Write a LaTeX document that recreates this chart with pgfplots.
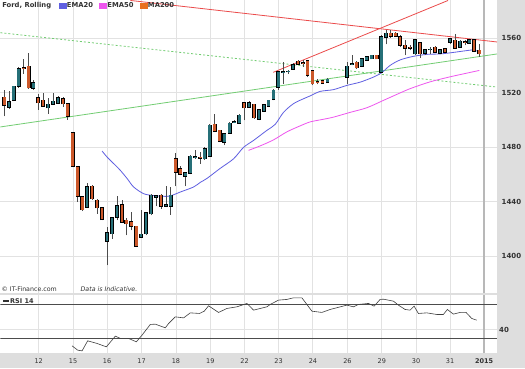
\documentclass[border=0pt]{standalone}
\usepackage{fontspec}
\setmainfont{DejaVu Sans}
\usepackage{pgfplots}
\usepackage{pgfplotstable}
\pgfplotsset{compat=1.18}
\definecolor{upc}{RGB}{38,112,120}
\definecolor{dnc}{RGB}{204,88,42}
\definecolor{ema20}{RGB}{95,95,225}
\definecolor{ema50}{RGB}{238,85,238}
\definecolor{ma200}{RGB}{232,112,30}
\definecolor{trendred}{RGB}{235,75,75}
\definecolor{trendgreen}{RGB}{115,205,115}
\definecolor{panelgray}{RGB}{222,222,222}
\definecolor{gridc}{RGB}{226,226,226}
\definecolor{txt}{RGB}{50,50,50}

% up candles (teal): x open high low close
\pgfplotstableread{
x o h l c
8.7 1509.6 1521.3 1508.4 1513.3
13.3 1514.5 1525.3 1514.0 1524.8
18.3 1524.8 1538.9 1523.8 1537.5
33 1523.5 1529.2 1522.4 1527.2
47.7 1509.1 1516.5 1504.7 1511.6
52.7 1511.6 1519.9 1511.3 1513.8
57.7 1512.5 1517.4 1512.1 1516.5
86.7 1436.2 1453.8 1435.7 1450.9
106.7 1411.2 1421.5 1393.4 1417.1
111.7 1416.7 1428.8 1413.0 1428.4
116.7 1428.8 1444.3 1426.4 1436.9
140.7 1414.2 1433.8 1413.7 1416.1
145.7 1416.7 1432.3 1415.4 1431.8
150.7 1431.3 1446.0 1430.1 1444.8
155.7 1443.5 1444.8 1436.7 1444.3
165.7 1437.0 1451.4 1436.2 1437.6
170.3 1436.7 1450.9 1430.6 1444.8
185 1458.7 1461.4 1451.4 1461.1
190 1461.1 1474.1 1460.2 1473.4
195 1472.5 1478.3 1471.7 1472.9
204.5 1471.7 1480.0 1471.0 1479.0
209.3 1473.4 1497.4 1472.7 1496.2
224 1483.9 1490.5 1481.5 1490.1
229.3 1490.5 1498.6 1490.1 1497.8
234 1498.4 1499.8 1497.8 1498.8
239 1497.8 1504.2 1497.4 1503.5
248.7 1509.6 1514.0 1509.1 1512.5
258.7 1500.6 1508.4 1499.8 1507.7
263.7 1506.6 1512.1 1506.2 1511.3
268.3 1510.1 1515.0 1509.6 1514.5
273.3 1515.2 1523.1 1514.5 1521.8
278 1524.3 1536.0 1522.4 1535.3
283 1534.9 1542.6 1526.8 1535.3
288 1535.6 1536.5 1534.2 1535.8
292.7 1537.3 1541.9 1537.0 1540.7
327.3 1527.7 1531.2 1527.2 1530.1
346.7 1531.6 1542.6 1526.2 1539.5
351.7 1541.0 1547.5 1540.2 1541.4
361.7 1539.5 1545.8 1538.9 1545.1
366.7 1543.9 1546.8 1543.3 1546.3
371.7 1545.1 1548.0 1544.6 1547.5
381.3 1535.3 1562.2 1534.5 1561.0
386 1561.0 1566.4 1555.6 1563.9
415 1548.8 1559.8 1547.5 1559.1
425 1549.2 1552.4 1547.5 1551.7
430 1551.7 1553.6 1548.8 1552.1
440 1549.2 1552.4 1548.8 1551.7
450 1557.3 1560.5 1556.1 1559.8
460 1553.6 1558.5 1553.2 1557.8
469.3 1556.6 1559.8 1556.1 1559.1
}\upcandles

% down candles (orange): x open high low close
\pgfplotstableread{
x o h l c
4 1516.9 1521.8 1502.8 1510.8
23.3 1538.5 1545.1 1534.1 1538.1
28.3 1539.5 1549.2 1523.1 1523.8
37.7 1516.2 1519.4 1507.7 1512.8
42.7 1514.5 1519.9 1509.8 1510.1
62.7 1515.7 1516.9 1509.6 1512.1
67.3 1512.1 1512.3 1500.3 1502.8
72.3 1490.5 1491.5 1465.5 1466.1
77.3 1465.5 1465.8 1439.8 1444.0
82 1443.5 1443.8 1433.2 1434.3
91.7 1451.4 1452.1 1441.6 1442.4
96.7 1441.1 1442.4 1431.3 1435.7
101.7 1435.7 1436.2 1426.4 1427.1
121.7 1437.9 1441.1 1424.4 1425.2
126 1426.4 1428.4 1415.4 1424.0
131 1425.2 1432.5 1419.1 1422.0
136 1422.0 1422.5 1406.8 1407.6
160.7 1444.8 1446.0 1435.0 1436.7
175.3 1471.7 1475.8 1451.4 1461.9
180 1464.4 1466.1 1459.5 1460.2
200 1472.6 1476.6 1468.0 1472.2
214.3 1496.9 1504.7 1491.2 1492.0
219.3 1492.5 1493.0 1483.9 1484.6
243.7 1512.8 1513.1 1499.8 1509.1
253.7 1511.6 1512.1 1501.1 1501.8
297.7 1543.1 1544.4 1540.6 1540.9
302.7 1541.9 1543.9 1538.9 1541.5
307.3 1543.5 1544.2 1531.6 1532.9
312.3 1536.0 1536.5 1525.5 1526.8
317.3 1528.3 1530.4 1526.2 1527.9
322.3 1528.7 1529.2 1526.8 1527.2
356.7 1542.6 1543.3 1537.8 1538.5
376.7 1547.5 1548.0 1544.6 1545.1
390.7 1563.9 1565.9 1560.5 1561.5
395.7 1563.9 1564.6 1561.0 1561.5
400 1561.0 1562.2 1553.6 1554.9
405 1554.9 1558.5 1547.5 1552.9
410 1553.4 1554.9 1551.2 1553.0
420 1556.6 1557.3 1545.8 1548.8
435 1553.6 1554.1 1549.2 1549.9
445 1552.4 1552.9 1549.2 1549.9
455 1558.5 1563.5 1552.4 1552.9
465 1557.5 1558.5 1554.9 1557.1
474 1559.1 1559.8 1549.9 1550.7
479.3 1551.2 1556.1 1546.7 1548.8
}\dncandles

\pgfplotsset{
  eb/.style={draw=none, mark=none, forget plot,
    error bars/.cd, y dir=plus, y explicit, error mark=none,
    error bar style={#1}},
}

\begin{document}
\begin{tikzpicture}[x=1pt,y=1pt]
\fill[panelgray] (0,0) rectangle (525,368);

% ---------------- main price panel ----------------
\begin{axis}[
  at={(0pt,75pt)}, anchor=south west,
  width=497pt, height=293pt, scale only axis,
  xmin=0, xmax=497, ymin=1372.9, ymax=1587.9,
  axis background/.style={fill=white},
  axis line style={draw=none},
  xtick={38.3,72.7,106.7,141.3,175.7,210,244.3,278.3,312.7,347.3,381.7,416,450},
  xticklabels={},
  ytick={1400,1440,1480,1520,1560},
  yticklabels={1400,1440,1480,1520,1560},
  yticklabel pos=right,
  yticklabel style={anchor=west, inner sep=0pt, xshift=4.5pt,
    font=\bfseries\fontsize{7}{8}\selectfont, text=txt},
  major tick length=0pt,
  grid=major, major grid style={draw=gridc, line width=0.9pt},
  legend style={draw=none, fill=none, inner sep=0pt, outer sep=0pt,
    at={(axis description cs:0.1173,0.983)}, anchor=west,
    font=\bfseries\fontsize{6.8}{7}\selectfont, text=txt,
    /tikz/every even column/.append style={column sep=5.5pt},
    nodes={inner sep=0.6pt}},
  legend columns=-1,
]
\addlegendimage{legend image code/.code={\fill[ema20] (0pt,-2.4pt) rectangle (7.3pt,2.4pt);}}
\addlegendentry{EMA20}
\addlegendimage{legend image code/.code={\fill[ema50] (0pt,-2.4pt) rectangle (7.3pt,2.4pt);}}
\addlegendentry{EMA50}
\addlegendimage{legend image code/.code={\fill[ma200] (0pt,-2.4pt) rectangle (7.3pt,2.4pt);}}
\addlegendentry{MA200}

% year separator
\addplot[forget plot, draw=black!28, line width=1.3pt] coordinates {(484,1372.9) (484,1587.9)};

% trend lines
\addplot[forget plot, trendgreen, line width=0.8pt, dash pattern=on 2pt off 2pt] coordinates {(0,1564.2) (497,1524.3)};
\addplot[forget plot, trendgreen, line width=0.8pt] coordinates {(0,1495.0) (497,1548.6)};
\addplot[forget plot, trendred, line width=0.8pt] coordinates {(130,1587.9) (497,1557.4)};
\addplot[forget plot, trendred, line width=0.8pt] coordinates {(273,1535.1) (448,1587.9)};

% EMA20
\addplot[forget plot, ema20, line width=0.8pt, smooth] coordinates {
(101.7,1477.3) (106.7,1472.9) (113,1468.3) (120,1463.1) (127,1456.9) (133.3,1450.9)
(143.3,1446.0) (153.3,1444.6) (166.7,1444.0) (173,1445.1) (180,1447.2) (193.3,1450.9)
(200,1454.3) (206.7,1457.2) (220,1464.6) (233.3,1471.6) (243.3,1480.0) (253.3,1485.1)
(266.7,1492.5) (275,1496.9) (283.3,1505.7) (293.3,1512.1) (303.3,1515.7) (310,1517.8)
(320,1521.1) (333.3,1522.4) (346.7,1525.5) (360,1527.9) (373.3,1531.6) (381.7,1534.9)
(390,1540.2) (400,1544.2) (413,1546.8) (427,1548.3) (440,1548.6) (453,1549.7)
(467,1551.1) (473,1551.5) (478,1550.5)};
% EMA50
\addplot[forget plot, ema50, line width=0.8pt, smooth] coordinates {
(248.3,1477.8) (260,1481.1) (273.3,1485.5) (286.7,1491.4) (300,1495.8) (310,1498.7)
(323,1500.6) (333.3,1502.2) (350,1505.7) (366.7,1509.1) (383.3,1514.5) (396.7,1518.9)
(410,1523.1) (430,1528.1) (450,1531.8) (466.7,1534.5) (479.3,1536.5)};

% candles: wicks
\addplot[eb={draw=black!70, line width=0.7pt}] table[x=x, y=l, y error plus expr=\thisrow{h}-\thisrow{l}] {\upcandles};
\addplot[eb={draw=black!70, line width=0.7pt}] table[x=x, y=l, y error plus expr=\thisrow{h}-\thisrow{l}] {\dncandles};
% candles: body outline
\addplot[eb={draw=black, line width=3.9pt}] table[x=x, y expr=\thisrow{o}-0.45, y error plus expr=\thisrow{c}-\thisrow{o}+0.9] {\upcandles};
\addplot[eb={draw=black, line width=3.9pt}] table[x=x, y expr=\thisrow{c}-0.45, y error plus expr=\thisrow{o}-\thisrow{c}+0.9] {\dncandles};
% candles: body fill
\addplot[eb={draw=upc, line width=2.7pt}] table[x=x, y=o, y error plus expr=\thisrow{c}-\thisrow{o}] {\upcandles};
\addplot[eb={draw=dnc, line width=2.7pt}] table[x=x, y=c, y error plus expr=\thisrow{o}-\thisrow{c}] {\dncandles};
\end{axis}

% ---------------- RSI panel ----------------
\begin{axis}[
  at={(0pt,14.7pt)}, anchor=south west,
  width=497pt, height=58.3pt, scale only axis,
  xmin=0, xmax=497, ymin=12.35, ymax=80.9,
  axis background/.style={fill=white},
  axis line style={draw=none},
  xtick={38.3,72.7,106.7,141.3,175.7,210,244.3,278.3,312.7,347.3,381.7,416,450,484},
  xticklabels={12,15,16,17,18,19,22,23,24,26,29,30,31,\textbf{2015}},
  xticklabel style={anchor=center, yshift=-7.6pt, inner sep=0pt,
    font=\fontsize{6.5}{7}\selectfont, text=txt},
  ytick={40}, yticklabels={40},
  yticklabel pos=right,
  yticklabel style={anchor=west, inner sep=0pt, xshift=2pt,
    font=\bfseries\fontsize{7}{8}\selectfont, text=txt},
  major tick length=0pt,
  grid=major, major grid style={draw=gridc, line width=0.9pt},
]
\addplot[draw=black!28, line width=1.3pt] coordinates {(484,12.35) (484,80.9)};
\addplot[draw=black!70, line width=0.9pt] coordinates {(0,70) (497,70)};
\addplot[draw=black!70, line width=0.9pt] coordinates {(0,30) (497,30)};
\addplot[draw=black!75, line width=0.6pt] coordinates {
(71.7,21.3) (77.3,16.2) (81.7,15.4) (87.3,27.2) (96.7,24.1) (106,20.1) (115,32.7)
(120,30.0) (128.3,30.0) (136,26.0) (141.7,33.9) (150,46.5) (155,46.8) (165,42.5)
(168.3,47.6) (175,55.4) (183.3,54.2) (190,60.1) (199.3,59.4) (204,62.1) (208.3,68.4)
(218.3,60.6) (226.7,65.3) (236.7,67.2) (246.7,71.2) (253.3,63.3) (266.7,67.2) (270,70.0)
(278.3,75.1) (286.7,75.9) (293.3,77.8) (301.7,77.8) (311.7,62.1) (321.7,60.6) (330,64.1)
(346.7,69.2) (353.3,67.2) (358.3,70.0) (368.3,71.2) (374,68.0) (380,75.9) (383.3,76.2)
(393.3,73.9) (398.3,69.2) (405,64.1) (410,63.3) (414,68.0) (418.3,59.4) (426.7,60.1)
(436.7,58.2) (443.3,58.2) (447.3,64.1) (453.3,58.6) (460,60.6) (466,60.6) (471.7,53.5)
(476.7,51.5)};
\end{axis}

% texts
\node[anchor=west, inner sep=0pt, font=\bfseries\fontsize{6.8}{7}\selectfont, text=txt] at (1.7,363) {Ford, Rolling};
\node[anchor=west, inner sep=0pt, font=\fontsize{6.3}{7}\selectfont, text=txt] at (1,79) {© IT-Finance.com};
\node[anchor=west, inner sep=0pt, font=\itshape\fontsize{6.3}{7}\selectfont, text=txt] at (80,79) {Data is Indicative.};
\node[anchor=west, inner sep=0pt, font=\bfseries\fontsize{6.5}{7}\selectfont, text=txt] at (2.5,67) {\rule[1.6pt]{5.5pt}{2.2pt}\hspace{1.6pt}RSI 14};
\end{tikzpicture}
\end{document}
